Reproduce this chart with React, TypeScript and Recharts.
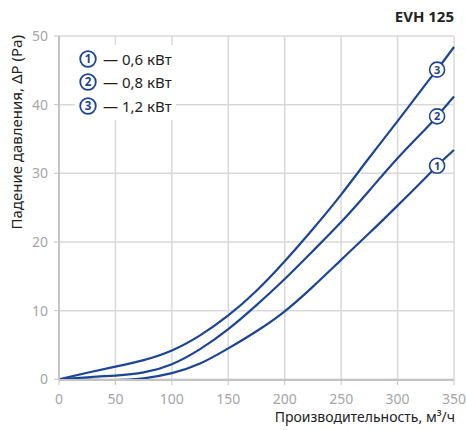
import { CartesianGrid, Line, LineChart, XAxis, YAxis } from "recharts";

// flow, m3/h and pressure drop, Pa for each heater power
const flow = [0, 25, 50, 75, 100, 125, 150, 175, 200, 225, 250, 275, 300, 325, 335, 350];
const p06 = [0, -0.05, -0.1, 0.15, 0.9, 2.3, 4.5, 7.0, 9.9, 13.5, 17.4, 21.3, 25.3, 29.4, 31.1, 33.4];
const p08 = [0, 0.3, 0.55, 1.0, 2.2, 4.4, 7.3, 10.8, 14.6, 18.7, 22.9, 27.5, 32.2, 36.5, 38.3, 41.2];
const p12 = [0, 0.95, 1.85, 2.8, 4.2, 6.4, 9.3, 12.9, 17.2, 21.9, 26.9, 32.3, 37.6, 43.0, 45.1, 48.4];

const xTicks = [0, 50, 100, 150, 200, 250, 300, 350];
const yTicks = [0, 10, 20, 30, 40, 50];
const legendItems = [
  { n: 1, label: "— 0,6 кВт" },
  { n: 2, label: "— 0,8 кВт" },
  { n: 3, label: "— 1,2 кВт" },
];
const tagAt = 335;

const BLUE = "#1c4596";
const FONT = "'Noto Sans', sans-serif";

const data = flow.map((q, i) => ({ q, p06: p06[i], p08: p08[i], p12: p12[i] }));
const tagIdx = flow.indexOf(tagAt);

function tag(n: number) {
  return (props: any) => {
    if (props.index !== tagIdx) return null;
    return (
      <g>
        <circle cx={props.x} cy={props.y} r={7.5} fill="#fff" stroke={BLUE} strokeWidth={1.6} />
        <text
          x={props.x}
          y={props.y + 4}
          textAnchor="middle"
          fontSize={11}
          fontWeight={700}
          fill={BLUE}
          fontFamily={FONT}
        >
          {n}
        </text>
      </g>
    );
  };
}

function Badge({ n }: { n: number }) {
  return (
    <svg width={18} height={18} style={{ display: "block" }}>
      <circle cx={9} cy={9} r={7.8} fill="#fff" stroke={BLUE} strokeWidth={1.8} />
      <text x={9} y={13} textAnchor="middle" fontSize={11.5} fontWeight={700} fill={BLUE} fontFamily={FONT}>
        {n}
      </text>
    </svg>
  );
}

export default function App() {
  const tickStyle = { fill: "#a6a6a6", fontSize: 14, fontFamily: FONT };
  return (
    <div style={{ position: "relative", width: 466, height: 430, fontFamily: FONT }}>
      <style>{"body{margin:0}"}</style>
      <LineChart width={466} height={430} data={data} margin={{ top: 36, right: 12, bottom: 20, left: 0 }}>
        <CartesianGrid stroke="#d9d9d9" strokeWidth={1.5} />
        <XAxis
          dataKey="q"
          type="number"
          domain={[0, 350]}
          ticks={xTicks}
          height={30}
          tick={tickStyle}
          tickSize={5}
          tickMargin={9}
          axisLine={{ stroke: "#c4c4c4", strokeWidth: 2 }}
          tickLine={{ stroke: "#c4c4c4" }}
        />
        <YAxis
          type="number"
          domain={[0, 50]}
          ticks={yTicks}
          width={59}
          tick={tickStyle}
          tickSize={5}
          tickMargin={6}
          axisLine={{ stroke: "#c4c4c4", strokeWidth: 2 }}
          tickLine={{ stroke: "#c4c4c4" }}
        />
        <Line dataKey="p06" type="natural" stroke={BLUE} strokeWidth={2.2} dot={false} isAnimationActive={false} label={tag(1)} />
        <Line dataKey="p08" type="natural" stroke={BLUE} strokeWidth={2.2} dot={false} isAnimationActive={false} label={tag(2)} />
        <Line dataKey="p12" type="natural" stroke={BLUE} strokeWidth={2.2} dot={false} isAnimationActive={false} label={tag(3)} />
      </LineChart>

      <div
        style={{
          position: "absolute",
          right: 12,
          top: 6,
          fontSize: 15,
          fontWeight: 700,
          color: "#222",
        }}
      >
        EVH 125
      </div>

      <div
        style={{
          position: "absolute",
          left: 16,
          top: 35,
          transformOrigin: "0 0",
          transform: "rotate(-90deg) translate(-100%, -50%)",
          whiteSpace: "nowrap",
          fontSize: 15,
          color: "#222",
          lineHeight: "18px",
        }}
      >
        Падение давления, ΔP (Pa)
      </div>

      <div
        style={{
          position: "absolute",
          right: 11,
          top: 407,
          fontSize: 14,
          color: "#222",
          whiteSpace: "nowrap",
        }}
      >
        Производительность, м³/ч
      </div>

      <div
        style={{
          position: "absolute",
          left: 75,
          top: 45,
          background: "#fff",
          padding: "2px 4px",
        }}
      >
        {legendItems.map((it) => (
          <div key={it.n} style={{ display: "flex", alignItems: "center", height: 23.5, gap: 6 }}>
            <Badge n={it.n} />
            <span style={{ fontSize: 15, color: "#222" }}>{it.label}</span>
          </div>
        ))}
      </div>
    </div>
  );
}
